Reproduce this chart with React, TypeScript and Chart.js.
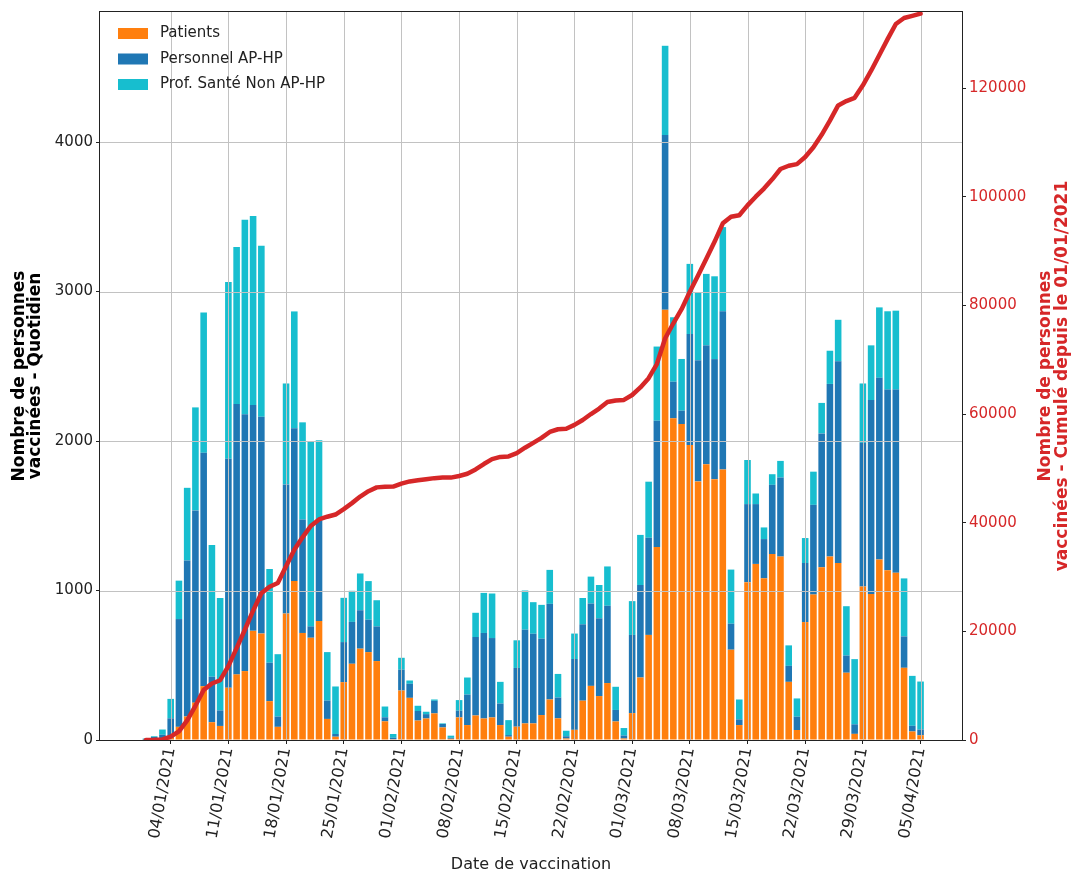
import React, { useEffect, useRef } from 'react';
import { Chart, registerables } from 'chart.js';

Chart.register(...registerables);

const FONT = "'DejaVu Sans', sans-serif";

// index 0 = 01/01/2021, one value per day up to 05/04/2021
const patients = [
  2, 3, 5, 15, 88, 157, 250, 360, 119, 94,
  350, 439, 461, 730, 712, 260, 88, 846, 1063, 716,
  684, 796, 141, 22, 387, 510, 611, 588, 528, 125,
  5, 331, 282, 130, 144, 178, 84, 8, 151, 100,
  164, 144, 151, 100, 22, 89, 111, 111, 167, 271,
  145, 10, 68, 263, 362, 294, 381, 124, 10, 180,
  418, 703, 1291, 2879, 2152, 2114, 1973, 1730, 1845, 1745,
  1810, 604, 100, 1056, 1178, 1082, 1244, 1227, 389, 67,
  789, 973, 1156, 1227, 1184, 450, 41, 1027, 976, 1208,
  1135, 1119, 483, 57, 32,
];

const personnel = [
  6, 17, 30, 130, 721, 1044, 1286, 1562, 304, 104,
  1531, 1809, 1718, 1511, 1451, 257, 69, 864, 1022, 759,
  76, 669, 123, 18, 268, 280, 257, 217, 232, 27,
  10, 139, 94, 64, 29, 84, 23, 7, 45, 204,
  525, 572, 531, 144, 11, 393, 627, 600, 511, 640,
  139, 15, 474, 511, 551, 520, 517, 77, 20, 523,
  619, 650, 845, 1168, 245, 89, 743, 810, 795, 803,
  1058, 174, 38, 522, 400, 262, 463, 529, 107, 89,
  395, 600, 895, 1155, 1349, 115, 64, 961, 1298, 1215,
  1209, 1225, 210, 38, 38,
];

const profSante = [
  2, 5, 35, 130, 257, 486, 689, 937, 882, 752,
  1182, 1050, 1301, 1264, 1144, 627, 417, 675, 782, 650,
  1240, 540, 324, 318, 296, 208, 246, 258, 175, 72,
  25, 80, 22, 35, 16, 9, 4, 14, 71, 114,
  162, 268, 298, 145, 100, 185, 262, 211, 226, 227,
  158, 37, 170, 176, 180, 223, 263, 155, 50, 226,
  335, 375, 496, 597, 431, 346, 469, 455, 478, 554,
  563, 362, 133, 295, 71, 78, 71, 111, 137, 122,
  167, 222, 204, 222, 278, 330, 436, 397, 366, 471,
  524, 528, 388, 334, 321,
];

const cumul = [
  10, 40, 110, 600, 1600, 3600, 6300, 9200, 10400, 11000,
  13600, 16900, 20300, 23800, 27000, 28200, 28900, 32000, 35000, 37300,
  39400, 40600, 41100, 41500, 42500, 43600, 44800, 45800, 46500, 46600,
  46650, 47200, 47600, 47800, 48000, 48200, 48300, 48300, 48600, 49000,
  49800, 50800, 51700, 52100, 52200, 52800, 53800, 54700, 55600, 56700,
  57200, 57300, 58000, 58900, 60000, 61000, 62200, 62500, 62600, 63500,
  64900, 66600, 69200, 73900, 76700, 79300, 82500, 85500, 88600, 91700,
  95100, 96300, 96600, 98400, 100000, 101500, 103200, 105100, 105700, 106000,
  107300, 109100, 111400, 114000, 116800, 117600, 118200, 120500, 123200, 126100,
  129000, 131800, 132900, 133300, 133700,
];

const tickDays = [3, 10, 17, 24, 31, 38, 45, 52, 59, 66, 73, 80, 87, 94];
const tickLabels = [
  '04/01/2021', '11/01/2021', '18/01/2021', '25/01/2021', '01/02/2021',
  '08/02/2021', '15/02/2021', '22/02/2021', '01/03/2021', '08/03/2021',
  '15/03/2021', '22/03/2021', '29/03/2021', '05/04/2021',
];
const leftTicks = [0, 1000, 2000, 3000, 4000];
const rightTicks = [0, 20000, 40000, 60000, 80000, 100000, 120000];

const seriesLabels = ['Patients', 'Personnel AP-HP', 'Prof. Santé Non AP-HP'];
const seriesColors = ['#ff7f0e', '#1f77b4', '#17becf'];
const lineColor = '#d62728';
const leftTitle = ['Nombre de personnes', 'vaccinées - Quotidien'];
const rightTitle = ['Nombre de personnes', 'vaccinées - Cumulé depuis le 01/01/2021'];
const xTitle = 'Date de vaccination';

const gridPlugin = {
  id: 'gridAboveBars',
  beforeDatasetDraw(chart: any, args: any) {
    if (args.meta.type !== 'line') return;
    const { ctx, chartArea } = chart;
    const xs = chart.scales.x;
    const ys = chart.scales.y;
    ctx.save();
    ctx.strokeStyle = '#c2c2c2';
    ctx.lineWidth = 1;
    ctx.beginPath();
    xs.ticks.forEach((t: any) => {
      const px = Math.round(xs.getPixelForValue(t.value)) + 0.5;
      ctx.moveTo(px, chartArea.top);
      ctx.lineTo(px, chartArea.bottom);
    });
    ys.ticks.forEach((t: any) => {
      const py = Math.round(ys.getPixelForValue(t.value)) + 0.5;
      ctx.moveTo(chartArea.left, py);
      ctx.lineTo(chartArea.right, py);
    });
    ctx.stroke();
    ctx.restore();
  },
};

const framePlugin = {
  id: 'frame',
  afterDatasetsDraw(chart: any) {
    const { ctx, chartArea } = chart;
    ctx.save();
    ctx.strokeStyle = '#222';
    ctx.lineWidth = 1;
    ctx.strokeRect(
      Math.round(chartArea.left) - 0.5,
      Math.round(chartArea.top) - 0.5,
      Math.round(chartArea.right - chartArea.left) + 1,
      Math.round(chartArea.bottom - chartArea.top) + 1,
    );
    ctx.restore();
  },
};

const legendPlugin = {
  id: 'customLegend',
  afterDraw(chart: any) {
    const { ctx, chartArea } = chart;
    ctx.save();
    ctx.font = `15px ${FONT}`;
    ctx.textBaseline = 'middle';
    ctx.textAlign = 'left';
    const bars = chart.data.datasets.filter((d: any) => d.type === 'bar');
    bars.forEach((d: any, i: number) => {
      const cy = chartArea.top + 21.5 + i * 25.5;
      const bx = chartArea.left + 18;
      ctx.fillStyle = d.backgroundColor;
      ctx.fillRect(bx, cy - 5.5, 30, 11);
      ctx.fillStyle = '#222';
      ctx.fillText(d.label, bx + 42, cy);
    });
    ctx.restore();
  },
};

const rightTitlePlugin = {
  id: 'rightTitle',
  afterDraw(chart: any) {
    const { ctx, chartArea } = chart;
    const cy = (chartArea.top + chartArea.bottom) / 2;
    ctx.save();
    ctx.fillStyle = lineColor;
    ctx.font = `bold 17px ${FONT}`;
    ctx.textAlign = 'center';
    ctx.textBaseline = 'middle';
    ctx.translate(1046, cy);
    ctx.rotate(-Math.PI / 2);
    rightTitle.forEach((t, i) => ctx.fillText(t, 0, i * 16.5));
    ctx.restore();
  },
};

export default function App() {
  const ref = useRef<HTMLCanvasElement>(null);

  useEffect(() => {
    if (!ref.current) return;
    const mk = (arr: number[]) => arr.map((v, i) => ({ x: i, y: v }));
    const barSets = [patients, personnel, profSante].map((arr, k) => ({
      type: 'bar' as const,
      label: seriesLabels[k],
      data: mk(arr),
      backgroundColor: seriesColors[k],
      borderWidth: 0,
      barPercentage: 0.8,
      categoryPercentage: 1,
      yAxisID: 'y',
      order: 1,
    }));
    const lineSet = {
      type: 'line' as const,
      label: 'Cumul',
      data: mk(cumul),
      yAxisID: 'y2',
      borderColor: lineColor,
      backgroundColor: lineColor,
      borderWidth: 4.5,
      pointRadius: 0,
      tension: 0,
      borderJoinStyle: 'round' as const,
      borderCapStyle: 'round' as const,
      order: 0,
    };

    const chart = new Chart(ref.current, {
      type: 'bar',
      data: { datasets: [...barSets, lineSet] as any },
      options: {
        responsive: false,
        animation: false,
        devicePixelRatio: 1,
        events: [],
        layout: { padding: { top: 12, left: 0, right: 0, bottom: 0 } },
        plugins: { legend: { display: false }, tooltip: { enabled: false } },
        scales: {
          x: {
            type: 'linear',
            min: -5.58,
            max: 99.03,
            stacked: true,
            offset: false,
            afterBuildTicks: (s: any) => {
              s.ticks = tickDays.map((v) => ({ value: v }));
            },
            afterFit: (s: any) => {
              s.height = 133;
            },
            ticks: {
              autoSkip: false,
              minRotation: 80,
              maxRotation: 80,
              padding: 2,
              color: '#222',
              font: { family: FONT, size: 16 },
              callback: (v: any) => {
                const i = tickDays.indexOf(Number(v));
                return i >= 0 ? tickLabels[i] : '';
              },
            },
            grid: { offset: false, drawOnChartArea: false, tickColor: '#222', tickLength: 4 },
            border: { display: false },
            title: {
              display: true,
              text: xTitle,
              color: '#222',
              font: { family: FONT, size: 16, lineHeight: 1 },
              padding: { top: 0, bottom: 0 },
            },
          },
          y: {
            type: 'linear',
            position: 'left',
            min: 0,
            max: 4870,
            stacked: true,
            afterBuildTicks: (s: any) => {
              s.ticks = leftTicks.map((v) => ({ value: v }));
            },
            afterFit: (s: any) => {
              s.width = 100;
            },
            ticks: {
              padding: 3,
              color: '#222',
              font: { family: FONT, size: 15 },
              callback: (v: any) => String(v),
            },
            grid: { drawOnChartArea: false, tickColor: '#222', tickLength: 4 },
            border: { display: false },
            title: {
              display: true,
              text: leftTitle,
              color: '#000',
              font: { family: FONT, size: 17, weight: 'bold', lineHeight: 0.93 },
              padding: { top: 12, bottom: 0 },
            },
          },
          y2: {
            type: 'linear',
            position: 'right',
            min: 0,
            max: 134000,
            stacked: false,
            afterBuildTicks: (s: any) => {
              s.ticks = rightTicks.map((v) => ({ value: v }));
            },
            afterFit: (s: any) => {
              s.width = 113;
            },
            ticks: {
              padding: 3,
              color: lineColor,
              font: { family: FONT, size: 15 },
              callback: (v: any) => String(v),
            },
            grid: { drawOnChartArea: false, tickColor: '#222', tickLength: 4 },
            border: { display: false },
          },
        },
      } as any,
      plugins: [gridPlugin, framePlugin, legendPlugin, rightTitlePlugin],
    });

    return () => chart.destroy();
  }, []);

  return (
    <div style={{ position: 'absolute', left: 0, top: 0, width: 1075, height: 873, background: '#fff' }}>
      <canvas ref={ref} width={1075} height={873} style={{ display: 'block' }} />
    </div>
  );
}
